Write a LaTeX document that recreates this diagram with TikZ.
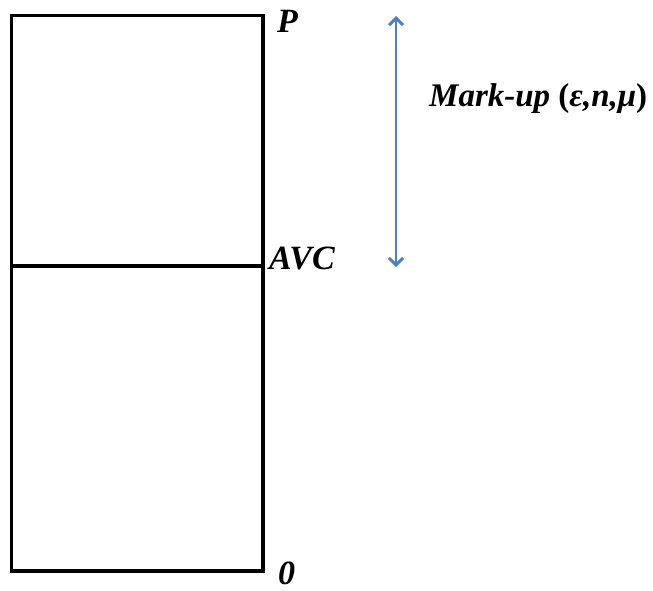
\documentclass[tikz,border=0pt]{standalone}
\usepackage{fontspec}
\setmainfont{Liberation Serif}
\usetikzlibrary{arrows.meta,positioning}
\definecolor{arrblue}{RGB}{79,129,189}
\tikzset{lbl/.style={font=\fontsize{34}{40}\selectfont\bfseries\itshape, inner sep=0pt}}

\begin{document}
\begin{tikzpicture}[x=1pt,y=-1pt]
\useasboundingbox (0,0) rectangle (653,590);
\draw[line width=3.3pt] (11.5,15.5) rectangle (263,571);
\draw[line width=3.3pt] (11.5,266)--(263,266);
\node[lbl,anchor=west] (p) at (277,21) {P};
\node[lbl,anchor=west] (avc) at (269,258) {AVC};
\node[lbl,anchor=west] (zero) at (278,573) {0};
\coordinate (top) at (396,16);
\coordinate (bot) at (396,267);
\draw[arrblue,line width=2.6pt,{Straight Barb[length=7pt,width=14pt,line width=3pt]}-{Straight Barb[length=7pt,width=14pt,line width=3pt]}] (top)--(bot);
\node[lbl,anchor=west,font=\fontsize{33}{40}\selectfont\bfseries\itshape] (mkup) at (429,99) {Mark-up \textup{(}ε,n,μ\textup{)}};
\end{tikzpicture}
\end{document}
